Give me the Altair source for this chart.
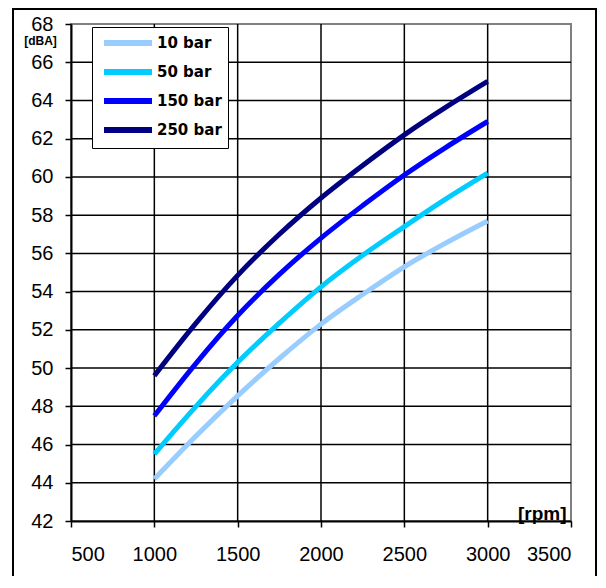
import altair as alt
import pandas as pd

# ---- data ----
rpm = [1000, 1250, 1500, 1750, 2000, 2250, 2500, 2750, 3000]
bar_10 = [44.2, 46.45, 48.55, 50.5, 52.3, 53.85, 55.3, 56.55, 57.7]
bar_50 = [45.5, 48.0, 50.3, 52.35, 54.25, 55.9, 57.4, 58.85, 60.2]
bar_150 = [47.5, 50.25, 52.75, 54.9, 56.8, 58.5, 60.1, 61.55, 62.9]
bar_250 = [49.6, 52.35, 54.85, 57.0, 58.9, 60.6, 62.2, 63.65, 65.0]

series_names = ["10 bar", "50 bar", "150 bar", "250 bar"]
series_colors = ["#99CCFF", "#00CCFF", "#0000FF", "#000080"]

x_ticks = [500, 1000, 1500, 2000, 2500, 3000, 3500]
y_ticks = [42, 44, 46, 48, 50, 52, 54, 56, 58, 60, 62, 64, 66, 68]
x_grid = [1000, 1500, 2000, 2500, 3000]
y_grid = [44, 46, 48, 50, 52, 54, 56, 58, 60, 62, 64, 66]

rows = []
for name, vals in zip(series_names, [bar_10, bar_50, bar_150, bar_250]):
    for r, v in zip(rpm, vals):
        rows.append({"rpm": r, "dBA": v, "series": name})
df = pd.DataFrame(rows)

FONT = "Liberation Sans"
xscale = alt.Scale(domain=[500, 3500], nice=False, zero=False)
yscale = alt.Scale(domain=[42, 68], nice=False, zero=False)

legend = alt.Legend(
    title=None, orient="none", legendX=21, legendY=3,
    symbolType="M-3.4286,0L3.4286,0", symbolSize=196, symbolStrokeWidth=6,
    symbolOffset=20,
    labelFont="DejaVu Sans", labelFontWeight="bold", labelFontSize=15, labelColor="black",
    strokeColor="black", fillColor="white", padding=6, rowPadding=5,
    labelOffset=19,
)

x_axis = alt.Axis(
    values=x_ticks, format="d", grid=False, domainColor="black", domainWidth=2,
    tickColor="black", tickWidth=1.5, tickSize=6,
    labelFont=FONT, labelFontSize=20, labelColor="black", labelPadding=17,
    title="[rpm]", titleFont=FONT, titleFontWeight="bold", titleFontSize=19,
    titleColor="black", titleX=495, titleY=-2, titleAlign="right",
    titleBaseline="alphabetic", zindex=1,
)
y_axis = alt.Axis(
    values=y_ticks, format="d", grid=False, domainColor="black", domainWidth=2,
    tickColor="black", tickWidth=1.5, tickSize=6,
    labelFont=FONT, labelFontSize=20, labelColor="black", labelPadding=12,
    title="[dBA]", titleFont=FONT, titleFontWeight="bold", titleFontSize=12,
    titleColor="black", titleAngle=0, titleX=-31, titleY=16, titleAlign="center",
    titleBaseline="middle", zindex=1,
)

lines = alt.Chart(df).mark_line(strokeWidth=5, interpolate="monotone").encode(
    x=alt.X("rpm:Q", scale=xscale, axis=x_axis),
    y=alt.Y("dBA:Q", scale=yscale, axis=y_axis),
    color=alt.Color("series:N", scale=alt.Scale(domain=series_names, range=series_colors),
                    legend=legend),
)

hgrid = alt.Chart(pd.DataFrame({"dBA": y_grid})).mark_rule(color="black", strokeWidth=1.5).encode(
    y=alt.Y("dBA:Q", scale=yscale, axis=y_axis)
)
vgrid = alt.Chart(pd.DataFrame({"rpm": x_grid})).mark_rule(color="black", strokeWidth=1.5).encode(
    x=alt.X("rpm:Q", scale=xscale, axis=x_axis)
)

frame = alt.Chart(pd.DataFrame({"a": [0]})).mark_rect(
    stroke="black", strokeWidth=2, fillOpacity=0
).encode(x=alt.value(-58), x2=alt.value(525), y=alt.value(-15), y2=alt.value(553))

chart = alt.layer(hgrid, vgrid, lines, frame).properties(
    width=500, height=497,
    autosize=alt.AutoSizeParams(type="none"),
    padding={"left": 63, "top": 16, "right": 27, "bottom": 55},
    background="white",
).configure_view(stroke="#808080", strokeWidth=2)

chart.save("out.html", embed_options={"renderer": "svg", "actions": False})
